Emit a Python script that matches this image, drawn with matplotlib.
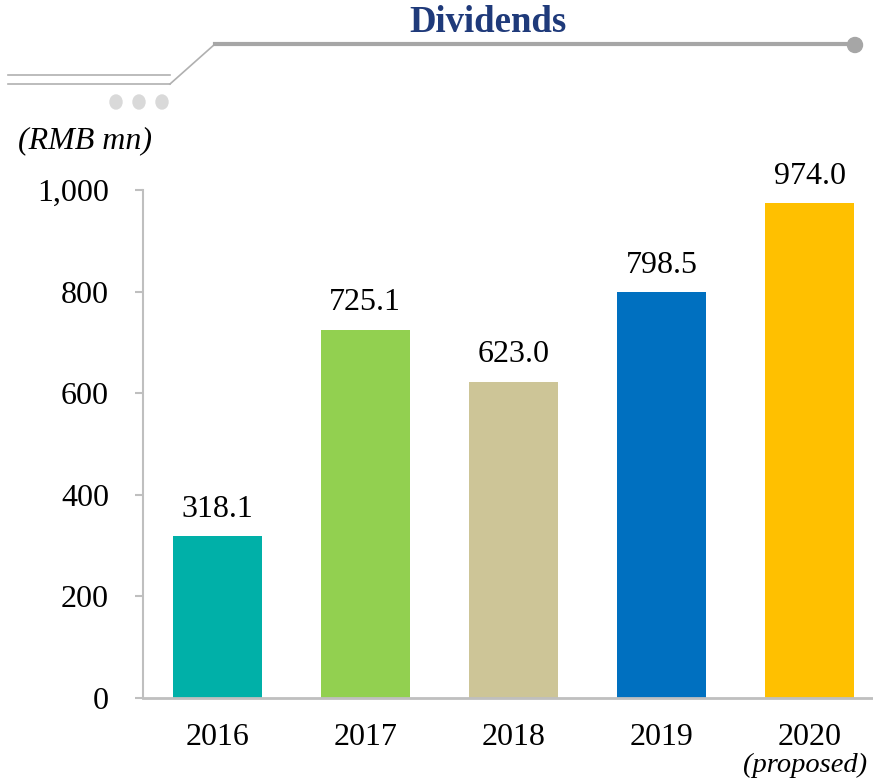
import matplotlib.pyplot as plt
from matplotlib.lines import Line2D
from matplotlib.patches import Ellipse

plt.rcParams['font.family'] = ['Liberation Serif', 'DejaVu Serif']

# data
years = ['2016', '2017', '2018', '2019', '2020']
dividends = [318.1, 725.1, 623.0, 798.5, 974.0]
colors = ['#00B0A8', '#92D050', '#CDC597', '#0070C0', '#FFC000']
yticks = [0, 200, 400, 600, 800, 1000]

W, H = 873, 778
fig = plt.figure(figsize=(W / 100, H / 100), dpi=100)

# axes placed in pixel terms
left, right, bottom, top = 143, 884, 698, 190
ax = fig.add_axes([left / W, (H - bottom) / H, (right - left) / W, (bottom - top) / H])

x = range(len(years))
ax.bar(x, dividends, width=0.6, color=colors, zorder=2)
for xi, v in zip(x, dividends):
    ax.annotate(f'{v:.1f}', (xi, v), xytext=(0, 9), textcoords='offset points',
                ha='center', va='bottom', fontsize=23)

ax.set_xlim(-0.5, 4.5)
ax.set_ylim(0, 1000)
ax.set_yticks(yticks)
ax.set_yticklabels([f'{t:,}' for t in yticks], fontsize=23)
ax.set_xticks(list(x))
ax.set_xticklabels(years, fontsize=23)
ax.tick_params(axis='x', length=0, pad=18)
ax.tick_params(axis='y', length=5.5, width=1.5, color='#BFBFBF', pad=19)

for s in ['top', 'right']:
    ax.spines[s].set_visible(False)
ax.spines['left'].set_color('#BFBFBF')
ax.spines['left'].set_linewidth(1.5)
ax.spines['bottom'].set_color('#BFBFBF')
ax.spines['bottom'].set_linewidth(2)

fig.text(805 / W, 1 - 765 / H, '(proposed)', ha='center', va='center',
         fontsize=20.5, style='italic')
fig.text(18 / W, 1 - 141 / H, '(RMB mn)', ha='left', va='center',
         fontsize=23, style='italic')

# header
fig.text(488 / W, 1 - 22 / H, 'Dividends', ha='center', va='center',
         fontsize=26.5, fontweight='bold', color='#1F3A7A')

def px(xp, yp):
    return xp / W, 1 - yp / H

gray = '#A6A6A6'
for yy in (75, 84):
    xs, ys = zip(px(8, yy), px(170, yy))
    fig.add_artist(Line2D(xs, ys, color='#B0B0B0', lw=1.2))
xs, ys = zip(px(170, 84), px(215, 44))
fig.add_artist(Line2D(xs, ys, color='#B0B0B0', lw=1.2))
xs, ys = zip(px(215, 44), px(855, 44))
fig.add_artist(Line2D(xs, ys, color=gray, lw=3))
cx, cy = px(855, 45)
fig.add_artist(Ellipse((cx, cy), 15 / W, 15 / H, color=gray))
for dx in (116, 139, 162):
    cx, cy = px(dx, 102)
    fig.add_artist(Ellipse((cx, cy), 12 / W, 14 / H, color='#D9D9D9'))

fig.savefig('out.png', dpi=100)
